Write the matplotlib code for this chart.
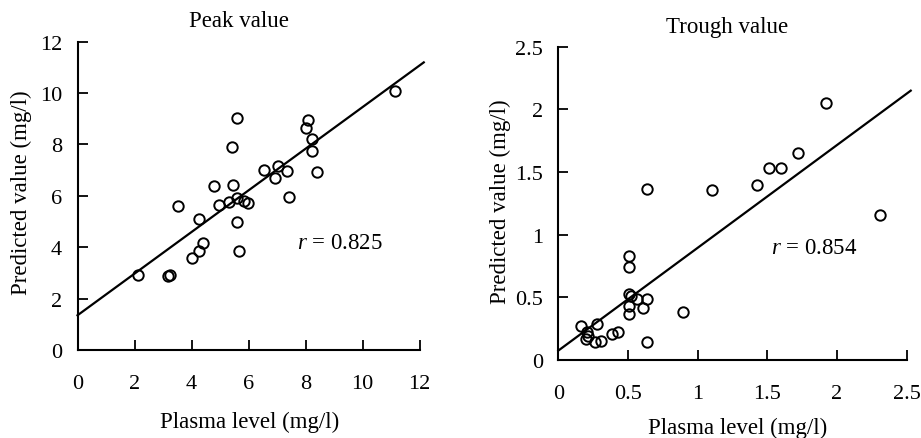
import matplotlib
matplotlib.use("Agg")
import matplotlib.pyplot as plt
import numpy as np

plt.rcParams['font.family'] = ['Liberation Serif', 'DejaVu Serif']
plt.rcParams['mathtext.fontset'] = 'custom'
plt.rcParams['mathtext.it'] = 'Liberation Serif:italic'
plt.rcParams['mathtext.rm'] = 'Liberation Serif'

# peak value panel
peak_plasma = [2.12, 3.19, 3.24, 3.52, 4.01, 4.26, 4.41, 4.26, 4.79, 4.98,
               5.32, 5.47, 5.43, 5.59, 5.61, 5.61, 5.68, 5.85, 5.97, 6.56,
               6.93, 7.02, 7.36, 7.43, 8.02, 8.08, 8.24, 8.24, 8.41, 11.15]
peak_pred = [2.92, 2.88, 2.92, 5.59, 3.58, 3.84, 4.16, 5.10, 6.39, 5.64,
             5.77, 6.42, 7.91, 9.02, 5.90, 4.99, 3.84, 5.78, 5.71, 7.00,
             6.69, 7.15, 6.95, 5.97, 8.64, 8.95, 8.21, 7.73, 6.91, 10.08]
peak_fit = (1.35, 0.81)      # intercept, slope
peak_fit_x = (0, 12.15)
peak_r = "0.825"

# trough value panel
trough_plasma = [0.16, 0.276, 0.204, 0.199, 0.215, 0.263, 0.31, 0.383, 0.43, 0.635,
                 0.51, 0.51, 0.51, 0.52, 0.51, 0.51, 0.563, 0.61, 0.64, 0.897,
                 0.64, 1.10, 1.43, 1.51, 1.60, 1.72, 1.92, 2.31]
trough_pred = [0.27, 0.29, 0.22, 0.17, 0.19, 0.14, 0.15, 0.21, 0.22, 0.14,
               0.83, 0.74, 0.53, 0.51, 0.43, 0.37, 0.49, 0.415, 0.49, 0.385,
               1.365, 1.36, 1.40, 1.53, 1.53, 1.65, 2.05, 1.157]
trough_fit = (0.075, 0.82)
trough_fit_x = (0, 2.53)
trough_r = "0.854"

W, H = 921, 439
fig = plt.figure(figsize=(W / 100, H / 100), dpi=100)
FS = 16


def px_axes(x0, y0, xpu, ypu, xmax, ymax):
    # x0,y0 pixel of data origin; xpu/ypu pixels per unit
    return fig.add_axes([x0 / W, (H - y0) / H, xmax * xpu / W, ymax * ypu / H])


def style(ax, xmax, ymax, xticks, yticks, xlabels, ylabels):
    for s in ['top', 'right']:
        ax.spines[s].set_visible(False)
    for s in ['left', 'bottom']:
        ax.spines[s].set_linewidth(1.5)
    ax.spines['bottom'].set_bounds(0, xticks[-1])
    ax.spines['left'].set_bounds(0, yticks[-1])
    ax.set_xlim(0, xmax)
    ax.set_ylim(0, ymax)
    ax.set_xticks(xticks)
    ax.set_xticklabels(xlabels)
    ax.set_yticks(yticks)
    ax.set_yticklabels(ylabels)
    ax.tick_params(direction='in', length=7, width=1.3, labelsize=FS)
    ax.tick_params(axis='x', pad=17)
    ax.tick_params(axis='y', pad=11)
    ax.patch.set_alpha(0)


def labels(ax, title, tpos, xpos, ypos):
    ax.text(tpos[0], tpos[1], title, transform=ax.transAxes, ha='center', va='center', fontsize=FS + 0.5)
    ax.text(xpos[0], xpos[1], "Plasma level (mg/l)", transform=ax.transAxes,
            ha='center', va='center', fontsize=FS + 0.5)
    ax.text(ypos[0], ypos[1], "Predicted value (mg/l)", transform=ax.transAxes,
            ha='center', va='center', rotation=90, fontsize=FS + 0.5)


# left
ax1 = px_axes(77.5, 351, 28.5, 25.7, 12.2, 12)
style(ax1, 12.2, 12, list(range(0, 13, 2)), list(range(0, 13, 2)),
      [str(v) for v in range(0, 13, 2)], [str(v) for v in range(0, 13, 2)])
xs = np.array(peak_fit_x)
ax1.plot(xs, peak_fit[0] + peak_fit[1] * xs, color='black', lw=1.6, clip_on=False)
ax1.plot(peak_plasma, peak_pred, 'o', mfc='none', mec='black', ms=7.5, mew=1.4, clip_on=False)
ax1.text(7.7, 4.2, r"$r$ = " + peak_r, fontsize=FS + 0.5, va='center', ha='left')
labels(ax1, "Peak value", (0.464, 1.067), (0.496, -0.233), (-0.16, 0.512))

# right
ax2 = px_axes(558.3, 361, 139.3, 125.3, 2.56, 2.5)
tv = [0, 0.5, 1, 1.5, 2, 2.5]
tl = ["0", "0.5", "1", "1.5", "2", "2.5"]
style(ax2, 2.56, 2.5, tv, tv, tl, tl)
xs = np.array(trough_fit_x)
ax2.plot(xs, trough_fit[0] + trough_fit[1] * xs, color='black', lw=1.6, clip_on=False)
ax2.plot(trough_plasma, trough_pred, 'o', mfc='none', mec='black', ms=7.5, mew=1.4, clip_on=False)
ax2.text(1.53, 0.90, r"$r$ = " + trough_r, fontsize=FS + 0.5, va='center', ha='left')
labels(ax2, "Trough value", (0.473, 1.066), (0.5025, -0.214), (-0.163, 0.508))

fig.savefig("out.png", dpi=100)
